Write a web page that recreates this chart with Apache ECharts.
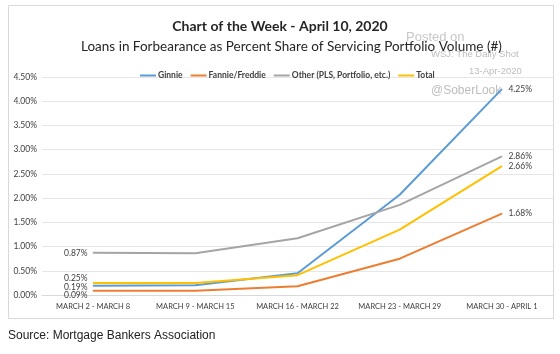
<!DOCTYPE html>
<html><head><meta charset="utf-8">
<script src="https://cdn.jsdelivr.net/npm/echarts@6/dist/echarts.min.js"></script>
<style>html,body{margin:0;padding:0;background:#fff}#c{width:560px;height:354px}</style>
</head><body><div id="c"></div>
<script>
var categories = ['MARCH 2 - MARCH 8','MARCH 9 - MARCH 15','MARCH 16 - MARCH 22','MARCH 23 - MARCH 29','MARCH 30 - APRIL 1'];
var ginnie = [0.19, 0.20, 0.45, 2.07, 4.25];
var fannie = [0.09, 0.09, 0.18, 0.75, 1.68];
var other = [0.87, 0.86, 1.17, 1.86, 2.86];
var total = [0.25, 0.25, 0.41, 1.35, 2.66];
var seriesNames = ['Ginnie','Fannie/Freddie','Other (PLS, Portfolio, etc.)','Total'];
var yTicks = [0, 0.5, 1, 1.5, 2, 2.5, 3, 3.5, 4, 4.5];

var colors = ['#5B9BD5','#ED7D31','#A5A5A5','#FFC000'];
// vertical shift of the first-point label (px; negative = up)
var firstShift = [1.5, 4.5, 0, -5];
var font = 'Lato, "Open Sans", sans-serif';

function mk(arr) {
  return arr.map(function(v, i) {
    var d = {value: v};
    if (i === 0) {
      d.label = {position: 'left', distance: 5};
    } else if (i === arr.length - 1) {
      d.label = {position: 'right', distance: 6};
    }
    return d;
  });
}
var all = [ginnie, fannie, other, total];
var series = all.map(function(arr, k) {
  var n = arr.length;
  var s = firstShift[k];
  var pad = s < 0 ? [0, 0, -2 * s, 0] : [2 * s, 0, 0, 0];
  return {
    name: seriesNames[k], type: 'line', data: mk(arr), symbol: 'circle', symbolSize: 1, showSymbol: true,
    lineStyle: {color: colors[k], width: 2}, itemStyle: {color: colors[k]},
    label: {show: true, color: '#404040', fontSize: 8.5, fontFamily: font,
      rich: {f: {fontSize: 8.5, fontFamily: font, color: '#404040', padding: pad}},
      formatter: function(p){
        if (p.dataIndex === 0) return '{f|' + p.value.toFixed(2) + '%}';
        if (p.dataIndex === n - 1) return p.value.toFixed(2) + '%';
        return '';
      }},
    labelLayout: {hideOverlap: false},
    z: k === 3 ? 5 : 3
  };
});

var chart = echarts.init(document.getElementById('c'));
chart.setOption({
  animation: false,
  color: colors,
  title: [
    {text: 'Chart of the Week - April 10, 2020', left: 'center', top: 14,
      textStyle: {fontSize: 14, fontWeight: 'bold', color: '#262626', fontFamily: font}},
    {text: 'Loans in Forbearance as Percent Share of Servicing Portfolio Volume (#)', left: 76, top: 35,
      textStyle: {fontSize: 13.5, fontWeight: 'normal', color: '#262626', fontFamily: font}}
  ],
  legend: {
    data: seriesNames, left: 135, top: 66, itemWidth: 16, itemHeight: 2, icon: 'rect', itemGap: 8,
    textStyle: {fontSize: 8.5, fontWeight: 'bold', color: '#404040', fontFamily: font, padding: [0,0,0,-3]}
  },
  grid: {left: 42, right: 7, top: 77, bottom: 59},
  xAxis: {
    type: 'category', data: categories, boundaryGap: true,
    axisLine: {lineStyle: {color: '#D9D9D9'}}, axisTick: {show: false},
    axisLabel: {fontSize: 7.5, color: '#404040', fontFamily: font, margin: 8, interval: 0}
  },
  yAxis: {
    type: 'value', min: 0, max: 4.5, interval: 0.5,
    axisLine: {show: false}, axisTick: {show: false},
    splitLine: {lineStyle: {color: '#E6E6E6'}},
    axisLabel: {fontSize: 8.5, color: '#404040', fontFamily: font, margin: 5,
      formatter: function(v){ return v.toFixed(2) + '%'; }}
  },
  graphic: [
    {type: 'rect', shape: {x: 8.5, y: 5.5, width: 545, height: 313}, style: {fill: 'none', stroke: '#D9D9D9', lineWidth: 1}, silent: true},
    {type: 'text', left: 406, top: 31, style: {text: 'Posted on', fontSize: 13, fill: '#C8C8C8', fontFamily: 'Liberation Sans, Arial, sans-serif'}},
    {type: 'text', left: 431, top: 49, style: {text: 'WSJ: The Daily Shot', fontSize: 9.5, fill: '#BDBDBD', fontFamily: 'Liberation Sans, Arial, sans-serif'}},
    {type: 'text', left: 469, top: 66, style: {text: '13-Apr-2020', fontSize: 9.5, fill: '#BDBDBD', fontFamily: 'Liberation Sans, Arial, sans-serif'}},
    {type: 'text', left: 431, top: 85, style: {text: '@SoberLook', fontSize: 12, fill: '#BDBDBD', fontFamily: 'Liberation Sans, Arial, sans-serif'}},
    {type: 'text', left: 8, top: 330, style: {text: 'Source: Mortgage Bankers Association', fontSize: 12, fill: '#222', fontFamily: 'Liberation Sans, Arial, sans-serif'}}
  ],
  series: series
});
</script></body></html>
